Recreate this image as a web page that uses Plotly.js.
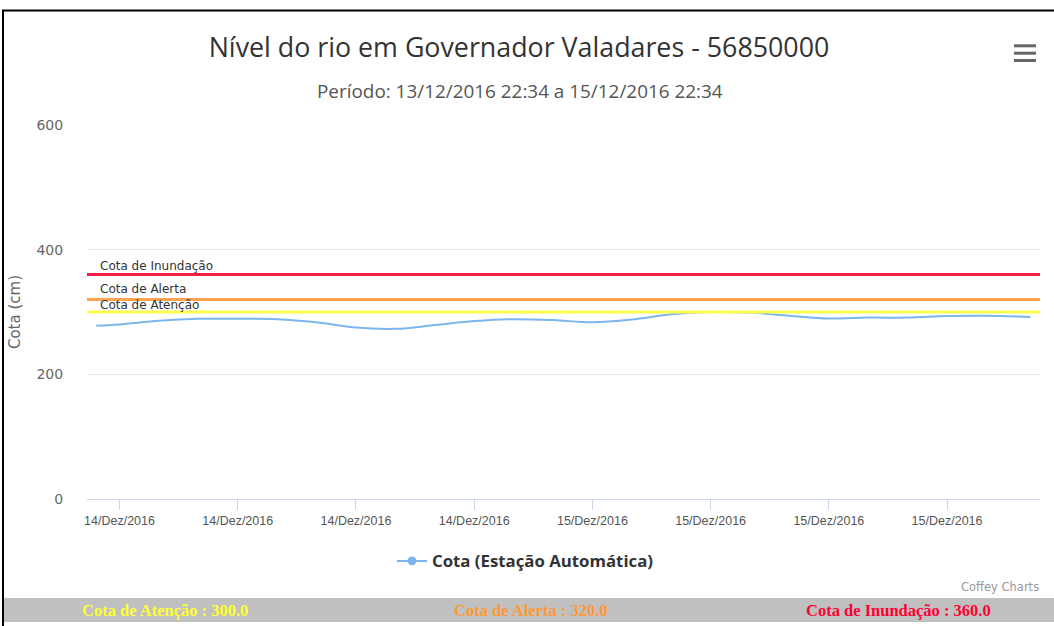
<!DOCTYPE html>
<html>
<head>
<meta charset="utf-8">
<script src="https://cdn.plot.ly/plotly-3.0.1.min.js"></script>
<style>
  html, body { margin: 0; padding: 0; background: #ffffff; }
  #chart { width: 1054px; height: 626px; }
</style>
</head>
<body>
<div id="chart"></div>
<script>
// ---- data ----
const times = [
  '2016-12-13 22:49', '2016-12-14 00:00', '2016-12-14 02:00', '2016-12-14 04:00',
  '2016-12-14 06:00', '2016-12-14 08:00', '2016-12-14 10:00', '2016-12-14 12:00',
  '2016-12-14 14:00', '2016-12-14 16:00', '2016-12-14 18:00', '2016-12-14 20:00',
  '2016-12-14 22:00', '2016-12-15 00:00', '2016-12-15 02:00', '2016-12-15 04:00',
  '2016-12-15 06:00', '2016-12-15 08:00', '2016-12-15 10:00', '2016-12-15 12:00',
  '2016-12-15 14:00', '2016-12-15 16:00', '2016-12-15 18:00', '2016-12-15 20:00',
  '2016-12-15 22:14'
];
const cota = [
  278, 280, 286, 289,
  289, 288.5, 283.5, 275,
  273, 279, 285.5, 288.5,
  287, 283.5, 288, 296.5,
  300, 299, 294, 289.5,
  291, 291, 293.5, 294,
  292
];
const seriesName = 'Cota (Estação Automática)';

const tickDates = [
  '2016-12-14 00:00', '2016-12-14 06:00', '2016-12-14 12:00', '2016-12-14 18:00',
  '2016-12-15 00:00', '2016-12-15 06:00', '2016-12-15 12:00', '2016-12-15 18:00'
];
const tickLabels = [
  '14/Dez/2016', '14/Dez/2016', '14/Dez/2016', '14/Dez/2016',
  '15/Dez/2016', '15/Dez/2016', '15/Dez/2016', '15/Dez/2016'
];
const yTicks = [0, 200, 400, 600];

const levelNames = ['Cota de Atenção', 'Cota de Alerta', 'Cota de Inundação'];
const levelValues = [300, 320, 360];

const titleText = 'Nível do rio em Governador Valadares - 56850000';
const subtitleText = 'Período: 13/12/2016 22:34 a 15/12/2016 22:34';
const creditText = 'Coffey Charts';

// ---- styles ----
const lineColors = ['#fdfd4c', '#ffa14f', '#f41f46'];
const labelShifts = [-1, 3, 1];
const barTextColors = ['#ffff33', '#ff9933', '#ff0033'];

const W = 1054, H = 626;
const M = { l: 87, r: 14, t: 125, b: 127 };
const plotW = W - M.l - M.r, plotH = H - M.t - M.b;
const px = v => (v - M.l) / plotW;          // pixel x -> paper x
const py = v => (H - M.b - v) / plotH;      // pixel y -> paper y

const shapes = [];
const annotations = [];

// threshold lines + labels
levelValues.forEach((v, i) => {
  shapes.push({
    type: 'line', xref: 'paper', yref: 'y', x0: 0, x1: 1, y0: v, y1: v,
    line: { color: lineColors[i], width: 3 }, layer: 'above'
  });
  annotations.push({
    xref: 'paper', yref: 'y', x: 0, y: v, xanchor: 'left', yanchor: 'bottom',
    xshift: 12, yshift: labelShifts[i], showarrow: false, text: levelNames[i],
    borderpad: 0,
    font: { family: 'DejaVu Sans', size: 12, color: '#333333' }
  });
});

// subtitle
annotations.push({
  xref: 'paper', yref: 'paper', x: px(519.5), y: py(91), xanchor: 'center', yanchor: 'middle',
  showarrow: false, text: subtitleText,
  font: { family: 'Open Sans', size: 18.9, color: '#555555' }
});

// credits
annotations.push({
  xref: 'paper', yref: 'paper', x: px(1041), y: py(587), xanchor: 'right', yanchor: 'middle',
  showarrow: false, text: creditText,
  font: { family: 'DejaVu Sans', size: 11.5, color: '#999999' }
});

// bottom grey bar
shapes.push({
  type: 'rect', xref: 'paper', yref: 'paper',
  x0: px(3), x1: px(1060), y0: py(622), y1: py(598),
  fillcolor: '#c0c0c0', line: { width: 0 }, layer: 'below'
});
const barCenters = [165, 531, 898];
levelValues.forEach((v, i) => {
  annotations.push({
    xref: 'paper', yref: 'paper', x: px(barCenters[i]), y: py(610.5), xanchor: 'center', yanchor: 'middle',
    showarrow: false, text: levelNames[i] + ' : ' + v.toFixed(1),
    font: { family: 'Liberation Serif', size: 16.5, color: barTextColors[i], weight: 'bold' }
  });
});

// frame of the screenshot (left and top border)
shapes.push({
  type: 'line', xref: 'paper', yref: 'paper',
  x0: px(3), x1: px(3), y0: py(10), y1: py(630),
  line: { color: '#000000', width: 2 }
});
shapes.push({
  type: 'line', xref: 'paper', yref: 'paper',
  x0: px(2), x1: px(1060), y0: py(10.5), y1: py(10.5),
  line: { color: '#000000', width: 2 }
});

// context menu (hamburger) icon
[45.8, 53.2, 60.5].forEach(yy => {
  shapes.push({
    type: 'line', xref: 'paper', yref: 'paper',
    x0: px(1014), x1: px(1036), y0: py(yy), y1: py(yy),
    line: { color: '#666666', width: 3 }
  });
});

const trace = {
  type: 'scatter',
  mode: 'lines+markers',
  x: times,
  y: cota,
  name: seriesName,
  line: { color: '#7cb5ec', width: 2, shape: 'spline', smoothing: 1 },
  marker: { color: '#7cb5ec', size: 9, symbol: 'circle' },
  selectedpoints: [],
  unselected: { marker: { opacity: 0 } },
  hoverinfo: 'x+y'
};

const layout = {
  width: W, height: H,
  margin: M,
  paper_bgcolor: '#ffffff',
  plot_bgcolor: '#ffffff',
  title: {
    text: titleText,
    xref: 'container', yref: 'container',
    x: 519 / W, y: 1 - 48 / H, xanchor: 'center', yanchor: 'middle',
    font: { family: 'Open Sans', size: 26.8, color: '#333333' }
  },
  xaxis: {
    type: 'date',
    range: ['2016-12-13 22:21', '2016-12-15 22:43'],
    tickmode: 'array', tickvals: tickDates, ticktext: tickLabels,
    ticks: 'outside', ticklen: 10, tickcolor: '#ccd6eb', tickwidth: 1,
    showline: true, linecolor: '#ccd6eb', linewidth: 1,
    showgrid: false, zeroline: false,
    tickfont: { family: 'Liberation Sans', size: 12.5, color: '#555555' },
    fixedrange: true
  },
  yaxis: {
    range: [0, 600],
    tickmode: 'array', tickvals: yTicks,
    ticks: 'outside', ticklen: 20, tickcolor: 'rgba(0,0,0,0)',
    showgrid: true, gridcolor: '#e6e6e6', gridwidth: 1,
    zeroline: false, showline: false,
    tickfont: { family: 'DejaVu Sans', size: 14, color: '#666666' },
    title: { text: 'Cota (cm)', standoff: 12, font: { family: 'DejaVu Sans', size: 15, color: '#666666' } },
    fixedrange: true
  },
  showlegend: true,
  legend: {
    orientation: 'h',
    xref: 'container', yref: 'container',
    x: 392 / W, y: 1 - 561 / H, xanchor: 'left', yanchor: 'middle',
    bgcolor: 'rgba(0,0,0,0)',
    font: { family: 'Open Sans', size: 16.8, color: '#333333', weight: 'bold' }
  },
  shapes: shapes,
  annotations: annotations
};

Plotly.newPlot('chart', [trace], layout, { displayModeBar: false, staticPlot: false });
</script>
</body>
</html>
